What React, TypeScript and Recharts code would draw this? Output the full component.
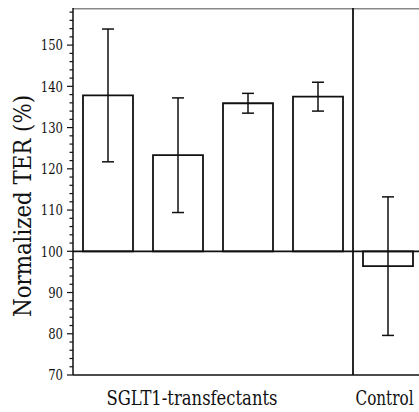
import {
  ComposedChart,
  Bar,
  Line,
  ErrorBar,
  XAxis,
  YAxis,
  ReferenceLine,
} from "recharts";

const categories = ["T1", "T2", "T3", "T4", "Control"];
const means = [137.8, 123.3, 135.9, 137.5, 96.4];
const errors = [16.1, 13.9, 2.4, 3.5, 16.8];
const baseline = 100;

const xLabels = ["", "SGLT1-transfectants", "", "", "Control"];
const xLabelShift = [0, 14, 0, 0, -3.5];
const xLabelWidth = [0, 171, 0, 0, 58];

const majorTicks = [70, 80, 90, 100, 110, 120, 130, 140, 150];
const yTicks: number[] = [];
for (let v = 70; v <= 158; v += 2) yTicks.push(v);

const data = categories.map((cat, i) => ({
  cat,
  range: [baseline, means[i]],
  mean: means[i],
  err: errors[i],
}));

const SERIF = "DejaVu Serif";

function YTick(props: any) {
  const { x, y, payload } = props;
  const major = majorTicks.includes(payload.value);
  const label = String(payload.value);
  return (
    <g>
      <line x1={x - (major ? 6 : 3.5)} x2={x} y1={y} y2={y} stroke="#111" strokeWidth={1.2} />
      {major && (
        <text
          x={x - 10}
          y={y}
          dy="0.36em"
          textAnchor="end"
          fontSize={14.5}
          fontFamily={SERIF}
          textLength={label.length * 7.4}
          lengthAdjust="spacingAndGlyphs"
          fill="#111"
        >
          {label}
        </text>
      )}
    </g>
  );
}

function XTick(props: any) {
  const { x, y, index } = props;
  const label = xLabels[index];
  if (!label) return null;
  return (
    <text
      x={x + xLabelShift[index]}
      y={y + 30}
      textAnchor="middle"
      fontSize={19.5}
      fontFamily={SERIF}
      textLength={xLabelWidth[index]}
      lengthAdjust="spacingAndGlyphs"
      fill="#111"
    >
      {label}
    </text>
  );
}

function YLabel() {
  return (
    <text
      x={31}
      y={206}
      transform="rotate(-90, 31, 206)"
      textAnchor="middle"
      fontSize={24}
      fontFamily={SERIF}
      textLength={222}
      lengthAdjust="spacingAndGlyphs"
      fill="#111"
    >
      Normalized TER (%)
    </text>
  );
}

export default function App() {
  return (
    <div style={{ position: "absolute", left: 0, top: 0, width: 419, height: 412, overflow: "hidden", background: "#fff" }}>
      <ComposedChart
        width={423}
        height={412}
        data={data}
        margin={{ top: 8, right: 0, bottom: 0, left: 0 }}
        barCategoryGap={10}
      >
        <XAxis
          dataKey="cat"
          interval={0}
          tickLine={false}
          tickSize={0}
          tickMargin={0}
          height={37}
          tick={<XTick />}
          axisLine={{ stroke: "#111", strokeWidth: 1.5 }}
        />
        <YAxis
          type="number"
          domain={[70, 159]}
          ticks={yTicks}
          interval={0}
          width={73}
          tickLine={false}
          tickSize={0}
          tickMargin={0}
          tick={<YTick />}
          axisLine={{ stroke: "#111", strokeWidth: 1.5 }}
          label={<YLabel />}
        />
        <ReferenceLine y={158.8} stroke="#888" strokeWidth={1.5} />
        <ReferenceLine x="Control" position="start" stroke="#111" strokeWidth={1.8} />
        <Bar dataKey="range" fill="#fff" stroke="#111" strokeWidth={1.8} isAnimationActive={false} />
        <ReferenceLine y={baseline} stroke="#111" strokeWidth={1.8} />
        <Line dataKey="mean" stroke="none" dot={false} activeDot={false} isAnimationActive={false}>
          <ErrorBar dataKey="err" width={6} stroke="#111" strokeWidth={1.5} direction="y" />
        </Line>
      </ComposedChart>
    </div>
  );
}
